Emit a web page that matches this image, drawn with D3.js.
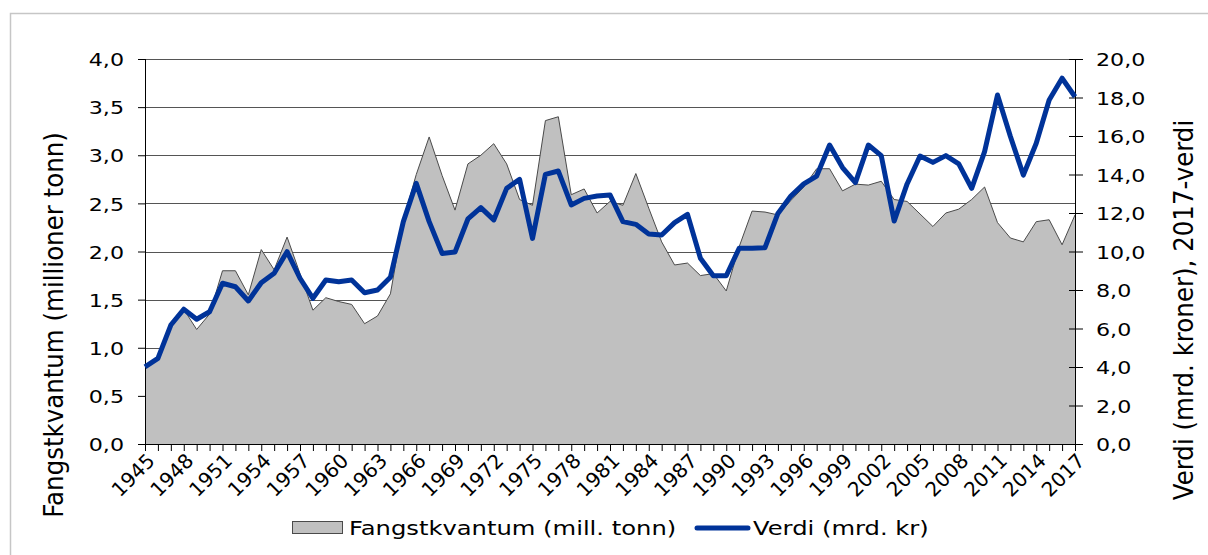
<!DOCTYPE html>
<html>
<head>
<meta charset="utf-8">
<script src="https://cdn.jsdelivr.net/npm/d3@7"></script>
<style>
  body { margin: 0; background: #fff; }
  text { font-family: "DejaVu Sans", Verdana, sans-serif; fill: #000; }
</style>
</head>
<body>
<div class="chart"></div>
<script>
var firstYear = 1945,
	lastYear = 2017;
var years = d3.range(firstYear, lastYear + 1);

// mill. tonn
var catchQty = [
	0.80, 0.88, 1.22, 1.40, 1.19, 1.35, 1.80, 1.80, 1.55, 2.02,
	1.81, 2.15, 1.77, 1.39, 1.52, 1.48, 1.45, 1.25, 1.33, 1.56,
	2.33, 2.80, 3.19, 2.79, 2.43, 2.91, 3.00, 3.12, 2.91, 2.54,
	2.48, 3.36, 3.40, 2.59, 2.65, 2.40, 2.52, 2.48, 2.81, 2.45,
	2.10, 1.86, 1.88, 1.75, 1.77, 1.59, 2.05, 2.42, 2.41, 2.38,
	2.53, 2.67, 2.86, 2.86, 2.63, 2.70, 2.69, 2.73, 2.54, 2.52,
	2.39, 2.26, 2.40, 2.44, 2.54, 2.67, 2.30, 2.14, 2.10, 2.31,
	2.33, 2.07, 2.38
];

// mrd. kr, 2017-verdi
var value = [
	4.01, 4.45, 6.18, 7.00, 6.48, 6.87, 8.35, 8.17, 7.43, 8.38,
	8.87, 9.99, 8.61, 7.57, 8.52, 8.43, 8.52, 7.86, 8.00, 8.66,
	11.55, 13.54, 11.55, 9.90, 9.97, 11.69, 12.28, 11.64, 13.28, 13.75,
	10.68, 14.01, 14.18, 12.42, 12.76, 12.88, 12.94, 11.55, 11.41, 10.91,
	10.86, 11.50, 11.93, 9.65, 8.74, 8.74, 10.17, 10.17, 10.20, 11.98,
	12.88, 13.51, 13.92, 15.53, 14.36, 13.58, 15.53, 14.98, 11.58, 13.51,
	14.96, 14.63, 14.98, 14.55, 13.28, 15.19, 18.13, 15.97, 13.97, 15.62,
	17.87, 19.00, 18.04
];

var leftTicks = [0, 0.5, 1, 1.5, 2, 2.5, 3, 3.5, 4];
var rightTicks = [0, 2, 4, 6, 8, 10, 12, 14, 16, 18, 20];
var yearLabels = years.filter(function(y) { return (y - firstYear) % 3 === 0; });

var leftTitle = 'Fangstkvantum (millioner tonn)',
	rightTitle = 'Verdi (mrd. kroner), 2017-verdi',
	legendArea = 'Fangstkvantum (mill. tonn)',
	legendLine = 'Verdi (mrd. kr)';

var width = 1208,
	height = 555,
	plot = {left: 145, right: 1075, top: 59, bottom: 444},
	stretch = 1.2; // text in the picture is a bit wide

var nb = d3.formatLocale({decimal: ',', thousands: ' ', grouping: [3], currency: ['', '']});
var fmt = nb.format('.1f');

var svg = d3.select('.chart').append('svg')
	.attr('width', width)
	.attr('height', height);

// outer frame
svg.append('rect')
	.attr('x', 10.5).attr('y', 13.5)
	.attr('width', 1300).attr('height', 700)
	.attr('fill', 'none')
	.attr('stroke', '#c6c6c6')
	.attr('stroke-width', 1.5);

var x = d3.scaleLinear().domain([firstYear, lastYear]).range([plot.left, plot.right]);
var yL = d3.scaleLinear().domain([0, 4]).range([plot.bottom, plot.top]);
var yR = d3.scaleLinear().domain([0, 20]).range([plot.bottom, plot.top]);

// grid
svg.append('g').selectAll('line')
	.data(leftTicks.slice(1))
	.enter().append('line')
	.attr('x1', plot.left).attr('x2', plot.right)
	.attr('y1', function(d) { return Math.round(yL(d)) + 0.5; })
	.attr('y2', function(d) { return Math.round(yL(d)) + 0.5; })
	.attr('stroke', '#555')
	.attr('stroke-width', 1);

// area
var area = d3.area()
	.x(function(d, i) { return x(years[i]); })
	.y0(plot.bottom)
	.y1(function(d) { return yL(d); });
svg.append('path')
	.datum(catchQty)
	.attr('d', area)
	.attr('fill', '#c0c0c0');
svg.append('path')
	.datum(catchQty)
	.attr('d', d3.line().x(function(d, i) { return x(years[i]); }).y(function(d) { return yL(d); }))
	.attr('fill', 'none')
	.attr('stroke', '#4a4a4a')
	.attr('stroke-width', 1);

// text that is wider than the font, as in the picture
function stretchText(sel, rot, k) {
	k = k || stretch;
	sel.each(function() {
		var t = d3.select(this),
			px = +t.attr('x'), py = +t.attr('y');
		t.attr('x', null).attr('y', null)
			.attr('transform', 'translate(' + px + ',' + py + ') scale(' + k + ',1)' + (rot ? ' rotate(' + rot + ')' : ''));
	});
}

var axL = svg.append('g')
	.attr('transform', 'translate(' + plot.left + ',0)')
	.call(d3.axisLeft(yL).tickValues(leftTicks).tickFormat(fmt).tickSize(7).tickPadding(14));
var axR = svg.append('g')
	.attr('transform', 'translate(' + plot.right + ',0)')
	.call(d3.axisRight(yR).tickValues(rightTicks).tickFormat(fmt).tickSize(8).tickPadding(13));
axR.selectAll('.tick line').attr('x1', -6);
var axX = svg.append('g')
	.attr('transform', 'translate(0,' + plot.bottom + ')')
	.call(d3.axisBottom(x).tickValues(years).tickFormat('').tickSize(7));

[axL, axR, axX].forEach(function(a) {
	a.select('.domain').remove();
	a.selectAll('.tick line').attr('stroke', '#000');
	a.selectAll('text').attr('font-size', 18.5).attr('font-family', null);
});
axL.selectAll('.tick text').attr('dy', '0.36em').call(stretchText);
axR.selectAll('.tick text').attr('dy', '0.36em').call(stretchText);

// axis lines
svg.append('line').attr('x1', plot.left + 0.5).attr('x2', plot.left + 0.5)
	.attr('y1', plot.top).attr('y2', plot.bottom).attr('stroke', '#000');
svg.append('line').attr('x1', plot.right + 0.5).attr('x2', plot.right + 0.5)
	.attr('y1', plot.top).attr('y2', plot.bottom).attr('stroke', '#000');
svg.append('line').attr('x1', plot.left).attr('x2', plot.right + 1)
	.attr('y1', plot.bottom + 0.5).attr('y2', plot.bottom + 0.5).attr('stroke', '#000');

// year labels
svg.append('g').selectAll('text')
	.data(yearLabels)
	.enter().append('text')
	.attr('x', function(d) { return x(d) + 6; })
	.attr('y', plot.bottom + 13)
	.attr('text-anchor', 'end')
	.attr('dy', '0.35em')
	.attr('font-size', 20)
	.text(function(d) { return d; })
	.each(function() {
		var t = d3.select(this), px = +t.attr('x'), py = +t.attr('y');
		t.attr('x', null).attr('y', null)
			.attr('transform', 'translate(' + px + ',' + py + ') rotate(-45)');
	});

// value line
svg.append('path')
	.datum(value)
	.attr('d', d3.line().x(function(d, i) { return x(years[i]); }).y(function(d) { return yR(d); }))
	.attr('fill', 'none')
	.attr('stroke', '#003399')
	.attr('stroke-width', 5)
	.attr('stroke-linejoin', 'round');

// titles
svg.append('text')
	.attr('x', 63).attr('y', 325)
	.attr('text-anchor', 'middle')
	.attr('font-size', 24.5)
	.text(leftTitle)
	.call(stretchText, -90, 1.12);
svg.append('text')
	.attr('x', 1193).attr('y', 310)
	.attr('text-anchor', 'middle')
	.attr('font-size', 24.5)
	.text(rightTitle)
	.call(stretchText, -90, 1.12);

// legend
var lg = svg.append('g');
lg.append('rect')
	.attr('x', 292.5).attr('y', 521.5)
	.attr('width', 50).attr('height', 12)
	.attr('fill', '#c0c0c0')
	.attr('stroke', '#4a4a4a');
lg.append('text')
	.attr('x', 349).attr('y', 535)
	.attr('font-size', 20.2)
	.text(legendArea)
	.call(stretchText);
lg.append('line')
	.attr('x1', 697).attr('x2', 748)
	.attr('y1', 528).attr('y2', 528)
	.attr('stroke', '#003399')
	.attr('stroke-width', 5)
	.attr('stroke-linecap', 'round');
lg.append('text')
	.attr('x', 753).attr('y', 535)
	.attr('font-size', 20.2)
	.text(legendLine)
	.call(stretchText);
</script>
</body>
</html>
